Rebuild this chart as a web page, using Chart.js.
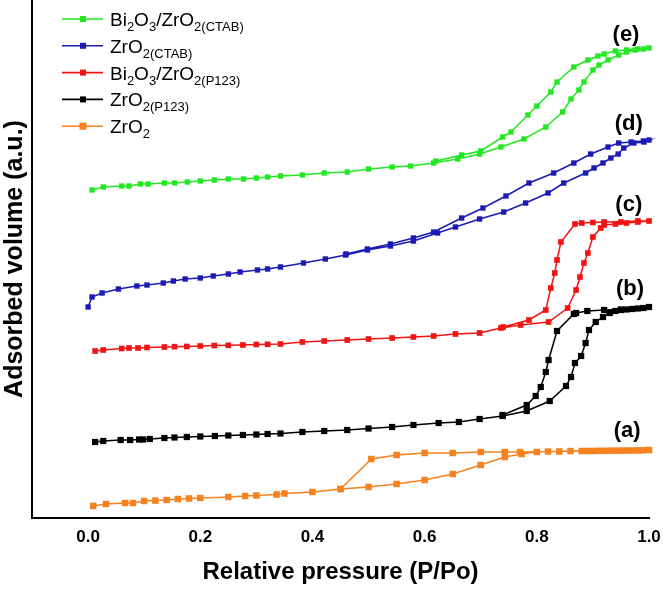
<!DOCTYPE html>
<html>
<head>
<meta charset="utf-8">
<script src="https://cdn.jsdelivr.net/npm/chart.js@4"></script>
<style>
  html, body { margin: 0; padding: 0; background: #fff; }
  #wrap { width: 663px; height: 591px; }
</style>
</head>
<body>
<div id="wrap"><canvas id="grafico" width="663" height="591"></canvas></div>
<script>
// =========================
// DADOS (x = P/Po, y = volume adsorvido, u.a.)
// =========================

const xTicks = [0.0, 0.2, 0.4, 0.6, 0.8, 1.0];

// (a) ZrO2
const zro2Ads = [
    [0.009, 12], [0.032, 14], [0.066, 15], [0.08, 15], [0.10, 17], [0.12, 17.4],
    [0.14, 18], [0.16, 19], [0.18, 19.5], [0.20, 20], [0.25, 21], [0.28, 22],
    [0.30, 22.5], [0.336, 23.5], [0.35, 24.5], [0.40, 26], [0.45, 29], [0.50, 31],
    [0.55, 34], [0.60, 38], [0.65, 44], [0.70, 53], [0.743, 61], [0.773, 64],
    [0.80, 66], [0.82, 66.5], [0.84, 66.5], [0.86, 67], [0.88, 67], [0.89, 67],
    [0.90, 67], [0.91, 67.2], [0.92, 67.2], [0.93, 67.3], [0.94, 67.3], [0.95, 67.4],
    [0.96, 67.5], [0.97, 67.5], [0.98, 67.6], [0.99, 67.7], [1.0, 68]
];
const zro2Des = [
    [0.77, 66], [0.743, 66], [0.70, 66], [0.65, 65], [0.60, 65], [0.55, 63],
    [0.505, 59], [0.45, 29]
];

// (b) ZrO2(P123)
const zro2P123Ads = [
    [0.0125, 76], [0.027, 77], [0.058, 78], [0.075, 78], [0.091, 78.5], [0.098, 78.5],
    [0.11, 79], [0.136, 80], [0.154, 80.5], [0.176, 81], [0.20, 81.5], [0.226, 82],
    [0.25, 82.5], [0.276, 83], [0.30, 83.5], [0.32, 84], [0.343, 84.5], [0.382, 86],
    [0.421, 87], [0.462, 88], [0.50, 89.5], [0.542, 91], [0.58, 93], [0.625, 95],
    [0.661, 96], [0.698, 99], [0.739, 102], [0.782, 107], [0.823, 117], [0.852, 132],
    [0.861, 141], [0.868, 155], [0.879, 162], [0.887, 175], [0.893, 188], [0.905, 196],
    [0.918, 201], [0.93, 205], [0.94, 207], [0.95, 208], [0.96, 208.5], [0.97, 209],
    [0.98, 209.5], [0.99, 210], [1.0, 211]
];
const zro2P123Des = [
    [0.95, 208.5], [0.92, 208], [0.89, 207], [0.87, 205], [0.866, 204], [0.836, 187],
    [0.821, 158], [0.816, 146], [0.807, 131], [0.798, 122], [0.782, 113], [0.739, 103]
];

// (c) Bi2O3/ZrO2(P123)
const biP123Ads = [
    [0.0125, 167], [0.027, 168], [0.06, 169.5], [0.073, 170], [0.089, 170], [0.105, 170.5],
    [0.136, 171], [0.154, 171.3], [0.176, 171.5], [0.20, 172], [0.225, 172.5], [0.25, 172.7],
    [0.276, 173], [0.30, 173.5], [0.32, 173.7], [0.343, 174], [0.382, 176], [0.421, 177],
    [0.462, 178], [0.50, 179], [0.542, 180], [0.58, 181], [0.616, 182], [0.655, 184],
    [0.698, 185], [0.736, 190], [0.771, 193], [0.821, 196], [0.855, 210], [0.87, 228],
    [0.877, 241], [0.884, 255], [0.891, 265], [0.90, 281], [0.914, 290], [0.92, 293],
    [0.94, 294], [0.96, 295], [0.98, 296], [1.0, 297]
];
const biP123Des = [
    [0.98, 297], [0.95, 296], [0.92, 296], [0.90, 295.5], [0.88, 295], [0.868, 294],
    [0.843, 276], [0.836, 258], [0.832, 245], [0.825, 230], [0.816, 208], [0.786, 198],
    [0.74, 191]
];

// (d) ZrO2(CTAB)
const zro2CtabAds = [
    [0.0, 211], [0.007, 221], [0.025, 225], [0.054, 229], [0.087, 232], [0.105, 233],
    [0.134, 235], [0.152, 237], [0.173, 239], [0.20, 240], [0.223, 242], [0.25, 244],
    [0.271, 246], [0.302, 248], [0.32, 249], [0.343, 251], [0.384, 255], [0.423, 259],
    [0.459, 263], [0.498, 268], [0.539, 272], [0.58, 277], [0.623, 285], [0.655, 291],
    [0.698, 299], [0.741, 306], [0.78, 315], [0.82, 325], [0.848, 335], [0.887, 345],
    [0.902, 350], [0.918, 355], [0.932, 360], [0.945, 364], [0.955, 370], [0.973, 375],
    [0.991, 376], [1.0, 378]
];
const zro2CtabDes = [
    [0.99, 377], [0.968, 376], [0.946, 375], [0.927, 371], [0.896, 364], [0.866, 355],
    [0.83, 345], [0.786, 335], [0.745, 322], [0.704, 310], [0.666, 300], [0.616, 286],
    [0.58, 280], [0.539, 274], [0.498, 269], [0.46, 264]
];

// (e) Bi2O3/ZrO2(CTAB)
const biCtabAds = [
    [0.007, 328], [0.027, 331], [0.06, 332], [0.073, 332], [0.093, 334], [0.107, 334],
    [0.136, 335], [0.154, 335], [0.177, 336], [0.20, 337], [0.225, 338], [0.25, 339],
    [0.277, 339], [0.30, 340], [0.32, 341], [0.343, 342], [0.382, 343], [0.421, 345],
    [0.462, 346], [0.50, 349], [0.542, 351], [0.575, 352], [0.616, 355], [0.659, 359],
    [0.698, 364], [0.736, 371], [0.777, 379], [0.816, 391], [0.846, 406], [0.861, 419],
    [0.875, 428], [0.884, 436], [0.90, 448], [0.911, 453], [0.927, 458], [0.946, 463],
    [0.96, 466], [0.975, 468], [0.99, 469], [1.0, 470]
];
const biCtabDes = [
    [0.98, 469], [0.96, 468], [0.94, 467], [0.92, 464], [0.909, 462], [0.891, 458],
    [0.866, 451], [0.836, 436], [0.825, 426], [0.80, 412], [0.784, 403], [0.754, 386],
    [0.739, 381], [0.70, 367], [0.666, 363], [0.62, 357]
];

// legenda (texto com subscritos: [texto, subscrito?])
const nomes = [
    [['Bi', 0], ['2', 1], ['O', 0], ['3', 1], ['/ZrO', 0], ['2(CTAB)', 1]],
    [['ZrO', 0], ['2(CTAB)', 1]],
    [['Bi', 0], ['2', 1], ['O', 0], ['3', 1], ['/ZrO', 0], ['2(P123)', 1]],
    [['ZrO', 0], ['2(P123)', 1]],
    [['ZrO', 0], ['2', 1]]
];
const cores = ['#22e822', '#1a1ab4', '#f01414', '#000000', '#f5821f'];

// rótulos das curvas
const letras = ['(e)', '(d)', '(c)', '(b)', '(a)'];
const letrasPos = [[0.959, 483], [0.964, 394], [0.964, 313], [0.966, 229], [0.961, 87]];

// =========================
// GRÁFICO
// =========================

const fonte = 'Arial, "Liberation Sans", sans-serif';

function serie(ads, des) {
    return ads.concat(des).map(p => ({ x: p[0], y: p[1] }));
}

const series = [
    serie(biCtabAds, biCtabDes),
    serie(zro2CtabAds, zro2CtabDes),
    serie(biP123Ads, biP123Des),
    serie(zro2P123Ads, zro2P123Des),
    serie(zro2Ads, zro2Des)
];

const raios = [3.8, 3.8, 4, 4.4, 4.6];

const pluginExtras = {
    id: 'extras',
    afterDatasetsDraw(chart) {
        const ctx = chart.ctx;
        const xs = chart.scales.x;
        const ys = chart.scales.y;

        ctx.save();

        // rótulos (a)..(e)
        ctx.fillStyle = '#000';
        ctx.font = 'bold 22px ' + fonte;
        ctx.textAlign = 'center';
        ctx.textBaseline = 'middle';
        letras.forEach((t, i) => {
            ctx.fillText(
                t,
                xs.getPixelForValue(letrasPos[i][0]),
                ys.getPixelForValue(letrasPos[i][1])
            );
        });

        // legenda
        ctx.textAlign = 'left';
        ctx.textBaseline = 'alphabetic';
        nomes.forEach((partes, i) => {
            const yc = 19 + i * 26.8;

            ctx.strokeStyle = cores[i];
            ctx.lineWidth = 1.6;
            ctx.beginPath();
            ctx.moveTo(62, yc);
            ctx.lineTo(103, yc);
            ctx.stroke();

            ctx.fillStyle = cores[i];
            const s = i === 4 ? 7 : 6;
            ctx.fillRect(83 - s / 2, yc - s / 2, s, s);

            let x = 110;
            const base = yc + 7;
            ctx.fillStyle = '#000';
            partes.forEach(([txt, sub]) => {
                ctx.font = (sub ? '13px ' : '19px ') + fonte;
                ctx.fillText(txt, x, sub ? base + 5 : base);
                x += ctx.measureText(txt).width;
            });
        });

        ctx.restore();
    }
};

new Chart(
    document.getElementById('grafico'),
    {
        type: 'line',
        data: {
            datasets: series.map((d, i) => ({
                label: 'serie' + i,
                data: d,
                borderColor: cores[i],
                backgroundColor: cores[i],
                borderWidth: 1.5,
                pointStyle: 'rect',
                pointRadius: raios[i],
                pointHoverRadius: raios[i],
                pointBorderWidth: 0,
                tension: 0,
                fill: false,
                clip: false
            }))
        },
        options: {
            responsive: false,
            animation: false,
            devicePixelRatio: 1,
            layout: {
                autoPadding: false,
                padding: { top: 0, right: 14, left: 0, bottom: 0 }
            },
            plugins: {
                legend: { display: false },
                tooltip: { enabled: false }
            },
            scales: {
                x: {
                    type: 'linear',
                    min: -0.1,
                    max: 1.0,
                    afterFit: s => {
                        s.height = 73;
                        s.paddingLeft = 0;
                        s.paddingRight = 0;
                    },
                    afterBuildTicks: s => { s.ticks = xTicks.map(v => ({ value: v })); },
                    grid: { display: false, drawTicks: false },
                    border: { display: true, color: '#000', width: 2 },
                    ticks: {
                        padding: 9,
                        color: '#000',
                        font: { family: fonte, size: 17, weight: 'bold' },
                        callback: v => v.toFixed(1)
                    },
                    title: {
                        display: true,
                        text: 'Relative pressure (P/Po)',
                        color: '#000',
                        font: { family: fonte, size: 24, weight: 'bold' },
                        padding: { top: 0, bottom: 4 }
                    }
                },
                y: {
                    type: 'linear',
                    min: 0,
                    max: 518,
                    afterFit: s => {
                        s.width = 32;
                        s.paddingTop = 0;
                        s.paddingBottom = 0;
                    },
                    grid: { display: false, drawTicks: false },
                    border: { display: true, color: '#000', width: 2 },
                    ticks: { display: false },
                    title: {
                        display: true,
                        text: 'Adsorbed volume (a.u.)',
                        color: '#000',
                        font: { family: fonte, size: 25, weight: 'bold' },
                        padding: { top: 0, bottom: 0 }
                    }
                }
            }
        },
        plugins: [pluginExtras]
    }
);
</script>
</body>
</html>
